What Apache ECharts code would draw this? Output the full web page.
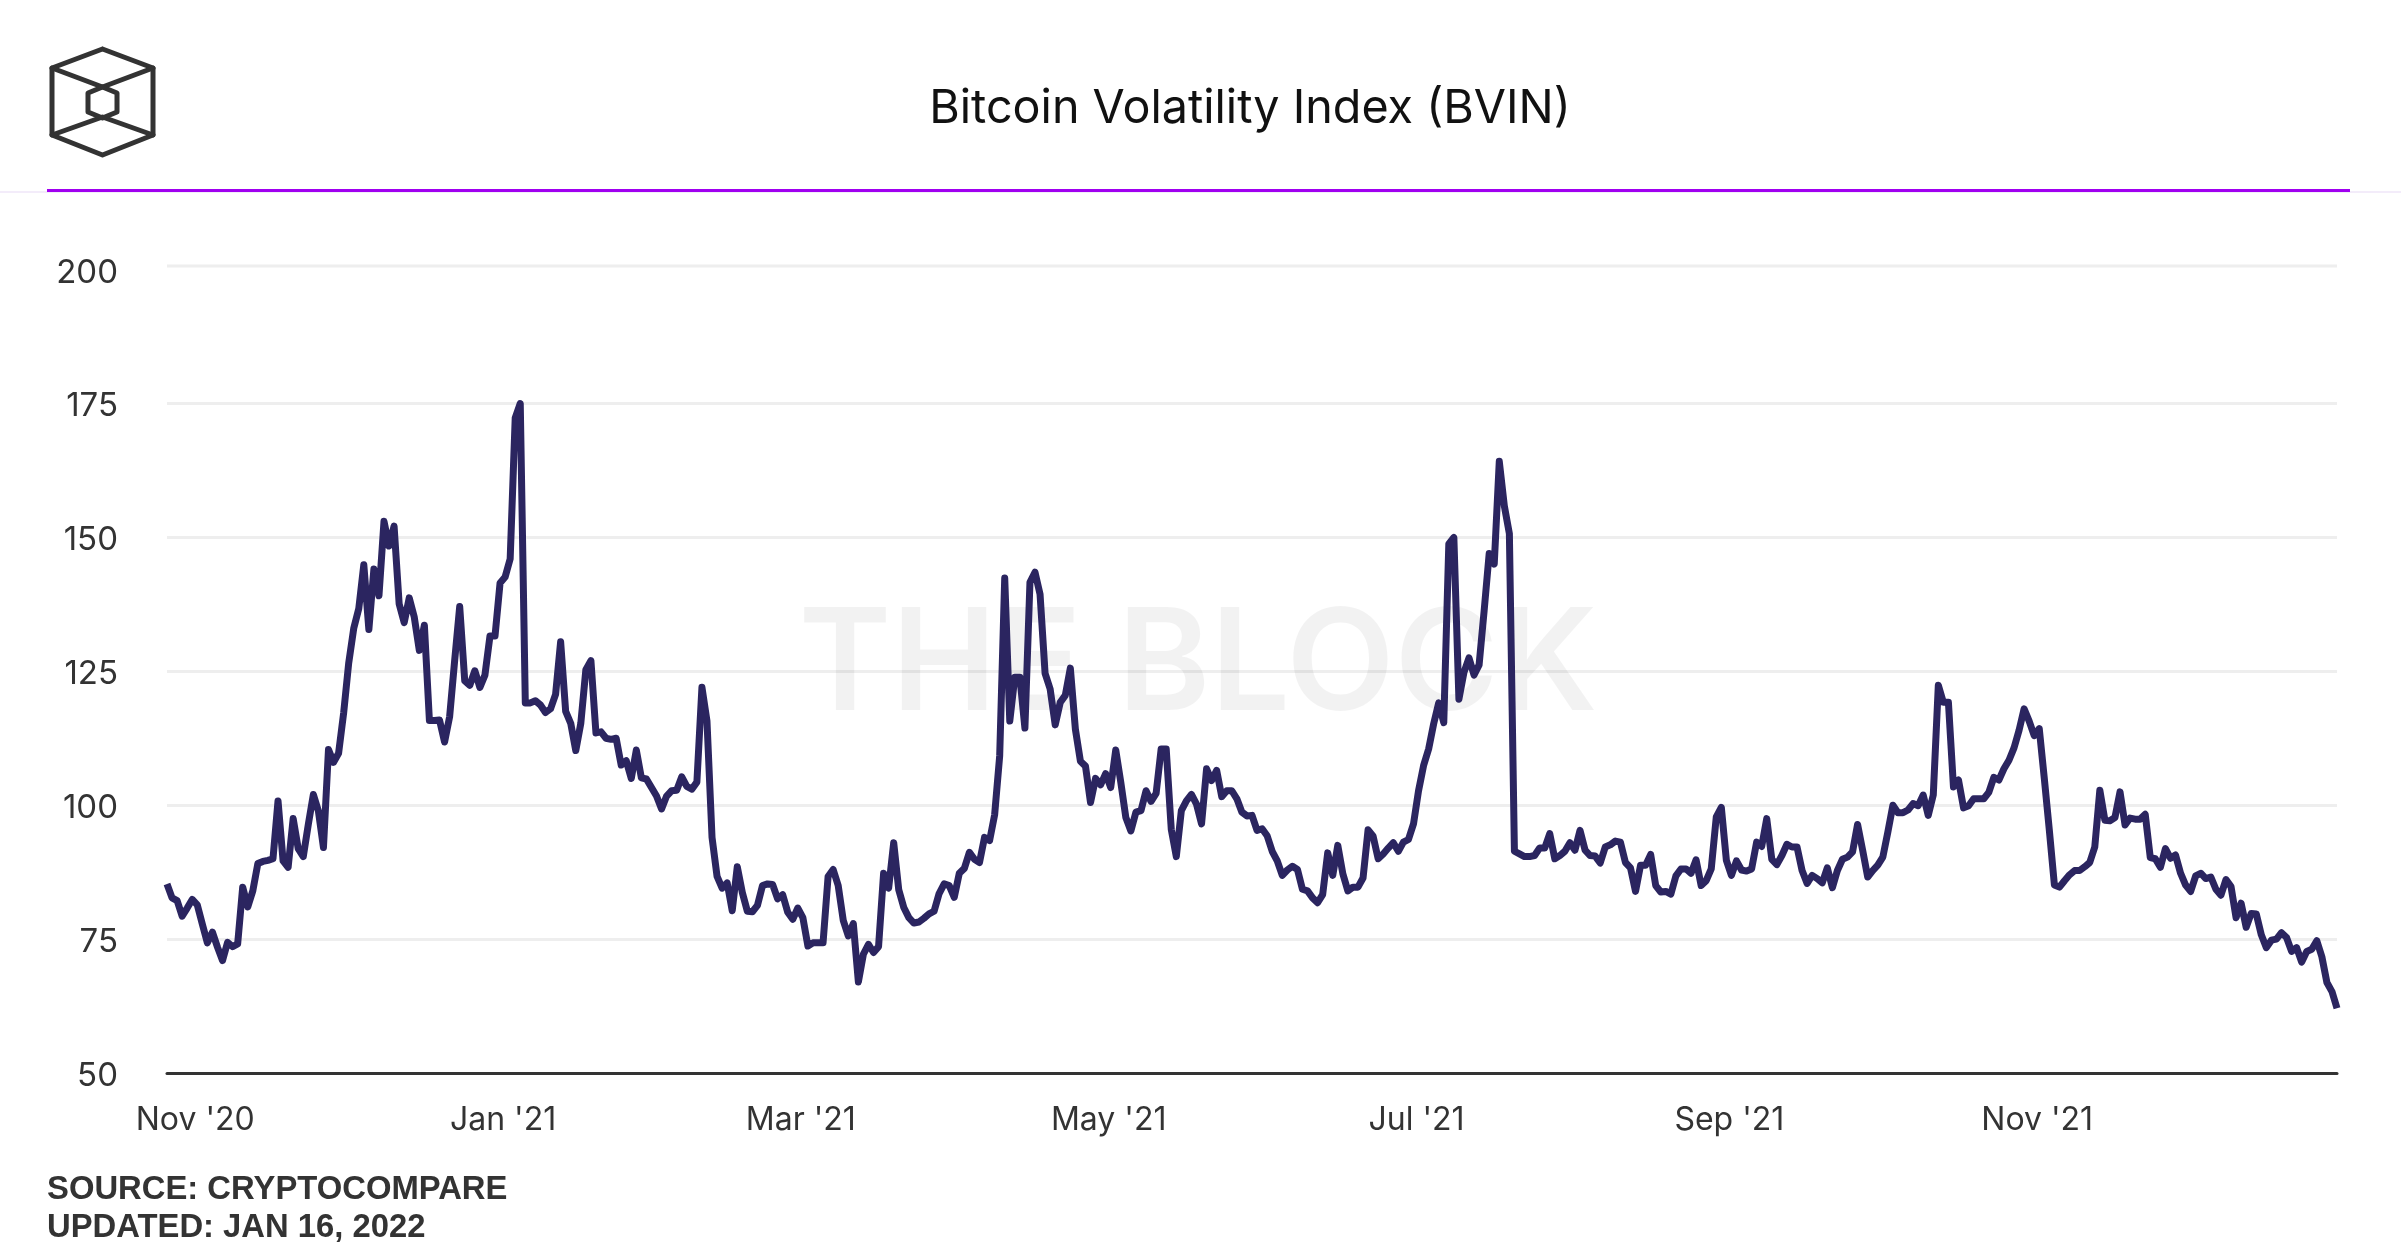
<!DOCTYPE html>
<html>
<head>
<meta charset="utf-8">
<title>Bitcoin Volatility Index (BVIN)</title>
<script src="https://cdn.jsdelivr.net/npm/echarts@6/dist/echarts.min.js"></script>
<style>
	html,body{margin:0;padding:0;background:#fff;}
	#chart{width:2401px;height:1260px;}
</style>
</head>
<body>
<div id="chart"></div>
<script>
var startDate = Date.UTC(2020, 9, 27);
var bvin = [
	85.3,82.7,82.2,79.3,80.8,82.4,81.4,77.8,74.3,76.3,
	73.5,71,74.4,73.6,74.1,84.7,81,84,89.1,89.5,
	89.7,90,100.8,89.6,88.4,97.5,91.9,90.4,96.4,102,
	98.9,92.1,110.4,108,109.7,117.2,126.5,133,136.7,144.9,
	132.8,144.1,139.1,153,148.4,152.1,137.6,134.1,138.7,135.1,
	128.9,133.6,115.8,115.8,115.9,111.8,116.5,127,137.1,123.2,
	122.4,125.1,122,124.3,131.6,131.6,141.5,142.6,146,172.3,
	175,119.1,119.1,119.5,118.7,117.3,118,120.7,130.5,117.5,
	115.3,110.2,115.3,125.3,127,113.5,113.7,112.5,112.3,112.5,
	107.5,108.3,105,110.3,105.1,104.9,103.3,101.7,99.3,101.7,
	102.7,102.8,105.3,103.5,103,104.3,122,115.7,94,86.7,
	84.5,85.5,80.3,88.5,83.7,80.2,80.1,81.3,85,85.3,
	85.2,82.5,83.3,80,78.7,80.8,79,73.7,74.3,74.3,
	74.3,86.7,88,85,78.5,75.6,77.9,67,72.2,74,
	72.5,73.6,87.3,84.5,93,84.2,80.9,79,78,78.2,
	78.9,79.7,80.2,83.5,85.3,85,82.8,87.3,88.2,91.2,
	89.9,89.3,94,93.4,98.2,109.2,142.4,115.7,123.9,123.9,
	114.4,141.6,143.5,139.4,124.6,121.7,115,119.2,120.5,125.6,
	114.2,108.2,107.3,100.5,105,103.8,105.9,103.3,110.3,104.3,
	97.7,95.2,98.7,99,102.7,100.7,102.2,110.5,110.5,95.5,
	90.4,99,100.8,102,100.2,96.5,106.8,104.6,106.5,101.6,
	102.7,102.7,101.2,98.7,98,98.1,95.3,95.6,94.3,91.4,
	89.6,86.9,87.9,88.6,88,84.3,84,82.7,81.8,83.3,
	91.1,86.9,92.5,87.2,84,84.7,84.7,86.4,95.4,94.2,
	90,90.9,92,93,91.4,93.1,93.6,96.5,102.7,107.4,
	110.5,115.2,119.1,115.4,148.8,150,119.8,124.8,127.5,124.3,
	126.2,136.3,147,145,164.2,155.9,150.7,91.4,90.9,90.4,
	90.4,90.6,92,92,94.7,90,90.6,91.4,93,91.6,
	95.3,91.6,90.6,90.5,89.2,92.2,92.6,93.3,93.1,89.3,
	88.3,83.9,88.8,88.8,90.8,85,83.8,83.9,83.4,86.8,
	88.1,88.1,87.3,89.8,85,85.9,88.1,97.8,99.6,89.7,
	86.9,89.6,87.9,87.7,88.1,93.1,92.3,97.5,89.9,88.9,
	90.6,92.7,92.2,92.2,87.8,85.4,86.9,86.3,85.5,88.3,
	84.6,87.8,89.9,90.3,91.3,96.4,91.6,86.6,87.8,88.8,
	90.3,95,100,98.6,98.6,99.1,100.3,99.9,101.9,98.1,
	101.9,122.4,119.2,119.2,103.4,104.7,99.5,99.9,101.2,101.2,
	101.2,102.4,105.2,104.7,106.8,108.4,110.7,114,118,115.7,
	113,114.3,105,95.3,85.1,84.7,85.9,87,87.8,87.8,
	88.5,89.3,92.2,102.8,97.2,97.1,97.7,102.5,96.3,97.6,
	97.4,97.4,98.3,90.2,90,88.4,91.9,90.1,90.7,87.3,
	85.1,83.9,86.8,87.3,86.3,86.6,84.3,83.2,86.1,84.8,
	79,81.7,77.2,79.8,79.7,75.8,73.4,74.8,75,76.2,
	75.3,72.7,73.4,70.7,72.7,73.1,74.7,71.7,66.9,65.2,62.1
];
var tickDates = ['2020-11-01','2021-01-01','2021-03-01','2021-05-01','2021-07-01','2021-09-01','2021-11-01'];
var tickLabels = ["Nov '20","Jan '21","Mar '21","May '21","Jul '21","Sep '21","Nov '21"];

// one category per day, starting at startDate
var dates = [];
for (var i = 0; i < bvin.length; i++) {
	dates.push(new Date(startDate + i * 86400000).toISOString().slice(0, 10));
}

var Chart = echarts.init(document.getElementById('chart'));

var font = 'Inter';
var logoColor = '#333333';
function logoLine(points) {
	return {
		type: 'polyline',
		z: 5,
		shape: { points: points },
		style: { stroke: logoColor, lineWidth: 5, fill: null, lineJoin: 'round', lineCap: 'round' }
	};
}

var option = {
	animation: false,
	backgroundColor: '#fff',
	grid: { left: 167, right: 64, top: 269.6, bottom: 187, containLabel: false },
	xAxis: {
		type: 'category',
		boundaryGap: false,
		data: dates,
		axisLine: { lineStyle: { color: '#333333', width: 3 } },
		axisTick: { show: false },
		splitLine: { show: false },
		axisLabel: {
			color: '#333333',
			fontFamily: font,
			fontSize: 32,
			margin: 31,
			padding: [0, 0, 0, 6],
			interval: function (index, value) { return tickDates.indexOf(value) >= 0; },
			formatter: function (value) { return tickLabels[tickDates.indexOf(value)]; }
		}
	},
	yAxis: {
		type: 'value',
		min: 50,
		max: 200,
		interval: 25,
		axisLine: { show: false },
		axisTick: { show: false },
		splitLine: { showMaxLine: false, lineStyle: { color: '#eeeeee', width: 3 } },
		axisLabel: { color: '#333333', fontFamily: font, fontSize: 33, margin: 49, verticalAlign: 'top', lineHeight: 6 }
	},
	series: [{
		name: 'BVIN',
		type: 'line',
		data: bvin,
		showSymbol: false,
		smooth: false,
		z: 3,
		lineStyle: { color: '#2b2560', width: 7, join: 'round', cap: 'butt' }
	}],
	graphic: [
		// header rule
		{ type: 'rect', shape: { x: 0, y: 191, width: 2401, height: 2 }, style: { fill: '#f3ecfa' } },
		{ type: 'rect', shape: { x: 47, y: 189, width: 2303, height: 3 }, style: { fill: '#a000f0' } },
		// top gridline sits a little above its tick in the reference
		{ type: 'rect', z: 0, shape: { x: 167, y: 264.5, width: 2170, height: 3 }, style: { fill: '#eeeeee' } },
		// watermark
		{
			type: 'text', z: 1, x: 1198, y: 668,
			style: { text: 'THE BLOCK', font: '600 141px Inter', fill: 'rgba(0,0,0,0.05)', textAlign: 'center', textVerticalAlign: 'middle' }
		},
		// title and footer
		{
			type: 'text', x: 1250, y: 109,
			style: { text: 'Bitcoin Volatility Index (BVIN)', font: '400 46.7px Inter', fill: '#111111', textAlign: 'center', textVerticalAlign: 'middle' }
		},
		{
			type: 'text', x: 47, y: 1190,
			style: { text: 'SOURCE: CRYPTOCOMPARE', font: 'bold 32.8px "Liberation Sans"', fill: '#333333', textAlign: 'left', textVerticalAlign: 'middle' }
		},
		{
			type: 'text', x: 47, y: 1228,
			style: { text: 'UPDATED: JAN 16, 2022', font: 'bold 32.8px "Liberation Sans"', fill: '#333333', textAlign: 'left', textVerticalAlign: 'middle' }
		},
		// logo
		logoLine([[102.5,49],[153,68],[153,135],[102.5,155],[52,135],[52,68],[102.5,49]]),
		logoLine([[52,68],[102.5,87],[153,68]]),
		logoLine([[52,135],[102.5,117],[153,135]]),
		logoLine([[102.5,87],[117,93],[117,112],[102.5,118],[88,112],[88,93],[102.5,87]])
	]
};

Chart.setOption(option);
</script>
</body>
</html>
